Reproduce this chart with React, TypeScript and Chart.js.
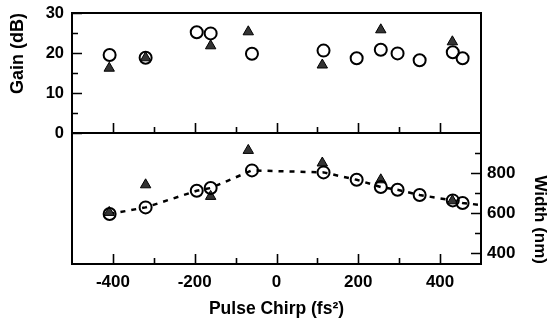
import React, { useEffect, useRef } from 'react';
import { Chart, registerables } from 'chart.js';

Chart.register(...registerables);

// ---- Data ----
const circleChirp = [-408, -320, -195, -161, -60, 115, 196, 255, 296, 350, 431, 455];
const circleGain = [19.5, 18.8, 25.2, 24.9, 19.8, 20.6, 18.7, 20.8, 19.9, 18.2, 20.2, 18.7];
const circleWidth = [595, 628, 711, 725, 813, 803, 766, 730, 716, 690, 663, 650];

const triChirp = [-409, -320, -161, -69, 112, 255, 430];
const triGain = [16.2, 18.8, 21.8, 25.3, 17.0, 25.8, 22.8];
const triWidth = [603, 741, 683, 913, 850, 766, 661];

// dashed guide line continues to the right edge
const fitEndChirp = [500];
const fitEndWidth = [640];

// ---- Tick labels ----
const chirpMajorTicks = [-400, -200, 0, 200, 400];
const chirpMinorTicks = [-300, -100, 100, 300];
const gainMajorTicks = [0, 10, 20, 30];
const gainMinorTicks = [5, 15, 25];
const widthMajorTicks = [400, 600, 800];
const widthMinorTicks = [500, 700, 900];

const FONT = "'Liberation Sans', Arial, Helvetica, sans-serif";
const INK = '#000';
const TRI_FILL = '#333';

function toPoints(xs: number[], ys: number[]) {
  return xs.map((x, i) => ({ x, y: ys[i] }));
}

function frameTicksPlugin(yEdge: 'left' | 'right', yMajor: number[], yMinor: number[]) {
  return {
    id: 'frameTicks',
    afterDraw(chart: any) {
      const { ctx, chartArea: a, scales } = chart;
      const xs = scales.x;
      const ys = scales.y;
      ctx.save();
      ctx.strokeStyle = INK;
      ctx.lineWidth = 2;
      ctx.strokeRect(a.left, a.top, a.right - a.left, a.bottom - a.top);
      ctx.lineWidth = 1.6;
      ctx.beginPath();
      const xTick = (vals: number[], len: number) => {
        vals.forEach((v) => {
          const px = Math.round(xs.getPixelForValue(v)) + 0.5;
          ctx.moveTo(px, a.bottom);
          ctx.lineTo(px, a.bottom - len);
        });
      };
      const yTick = (vals: number[], len: number) => {
        vals.forEach((v) => {
          const py = Math.round(ys.getPixelForValue(v)) + 0.5;
          if (yEdge === 'left') {
            ctx.moveTo(a.left, py);
            ctx.lineTo(a.left + len, py);
          } else {
            ctx.moveTo(a.right, py);
            ctx.lineTo(a.right - len, py);
          }
        });
      };
      xTick(chirpMajorTicks, 10);
      xTick(chirpMinorTicks, 6);
      yTick(yMajor, 10);
      yTick(yMinor, 6);
      ctx.stroke();
      ctx.restore();
    },
  };
}

const circleStyle = {
  pointStyle: 'circle',
  pointRadius: 6,
  borderColor: INK,
  borderWidth: 2,
  backgroundColor: 'rgba(0,0,0,0)',
};

const triStyle = {
  pointStyle: 'triangle',
  pointRadius: 6,
  borderColor: INK,
  borderWidth: 1,
  backgroundColor: TRI_FILL,
};

export default function App() {
  const topRef = useRef<HTMLCanvasElement>(null);
  const botRef = useRef<HTMLCanvasElement>(null);

  useEffect(() => {
    const top = new Chart(topRef.current as HTMLCanvasElement, {
      type: 'scatter',
      data: {
        datasets: [
          { label: 'Gain (circles)', data: toPoints(circleChirp, circleGain), ...circleStyle } as any,
          { label: 'Gain (triangles)', data: toPoints(triChirp, triGain), ...triStyle } as any,
        ],
      },
      options: {
        animation: false,
        responsive: false,
        events: [],
        layout: { padding: { left: 0, right: 69, top: 13, bottom: 17 } },
        plugins: { legend: { display: false }, tooltip: { enabled: false } },
        scales: {
          x: {
            type: 'linear',
            min: -500,
            max: 500,
            ticks: { display: false },
            grid: { display: false, drawTicks: false },
            border: { display: false },
            afterFit: (s: any) => { s.height = 0; },
          },
          y: {
            type: 'linear',
            position: 'left',
            min: 0,
            max: 30,
            afterBuildTicks: (s: any) => { s.ticks = gainMajorTicks.map((v) => ({ value: v })); },
            ticks: { color: INK, padding: 8, font: { family: FONT, size: 16.5, weight: 'bold' } },
            grid: { display: false, drawTicks: false },
            border: { display: false },
            title: {
              display: true,
              text: 'Gain (dB)',
              color: INK,
              align: 'end',
              padding: { top: 7, bottom: 0 },
              font: { family: FONT, size: 18, weight: 'bold' },
            },
            afterFit: (s: any) => { s.width = 72; s.paddingTop = 0; s.paddingBottom = 0; },
          },
        },
      } as any,
      plugins: [frameTicksPlugin('left', gainMajorTicks, gainMinorTicks)],
    });

    const bottom = new Chart(botRef.current as HTMLCanvasElement, {
      type: 'scatter',
      data: {
        datasets: [
          { label: 'Width (circles)', data: toPoints(circleChirp, circleWidth), ...circleStyle } as any,
          { label: 'Width (triangles)', data: toPoints(triChirp, triWidth), ...triStyle } as any,
          {
            label: 'Width trend',
            data: toPoints(circleChirp.concat(fitEndChirp), circleWidth.concat(fitEndWidth)),
            showLine: true,
            borderColor: INK,
            borderWidth: 2.5,
            borderDash: [5, 6],
            pointRadius: 0,
            fill: false,
          } as any,
        ],
      },
      options: {
        animation: false,
        responsive: false,
        events: [],
        layout: { padding: { left: 72, right: 0, top: 13, bottom: 0 } },
        plugins: { legend: { display: false }, tooltip: { enabled: false } },
        scales: {
          x: {
            type: 'linear',
            position: 'bottom',
            min: -500,
            max: 500,
            afterBuildTicks: (s: any) => { s.ticks = chirpMajorTicks.map((v) => ({ value: v })); },
            ticks: { color: INK, padding: 8, maxRotation: 0, autoSkip: false, font: { family: FONT, size: 17, weight: 'bold' } },
            grid: { display: false, drawTicks: false },
            border: { display: false },
            title: {
              display: true,
              text: 'Pulse Chirp (fs\u00B2)',
              color: INK,
              padding: { top: 0, bottom: 4 },
              font: { family: FONT, size: 17.5, weight: 'bold' },
            },
            afterFit: (s: any) => { s.height = 60; },
          },
          y: {
            type: 'linear',
            position: 'right',
            min: 345,
            max: 1000,
            afterBuildTicks: (s: any) => { s.ticks = widthMajorTicks.map((v) => ({ value: v })); },
            ticks: { color: INK, padding: 6, font: { family: FONT, size: 17, weight: 'bold' } },
            grid: { display: false, drawTicks: false },
            border: { display: false },
            title: {
              display: true,
              text: 'Width (nm)',
              color: INK,
              align: 'start',
              padding: { top: 0, bottom: 0 },
              font: { family: FONT, size: 17, weight: 'bold' },
            },
            afterFit: (s: any) => { s.width = 69; s.paddingTop = 0; s.paddingBottom = 0; },
          },
        },
      } as any,
      plugins: [frameTicksPlugin('right', widthMajorTicks, widthMinorTicks)],
    });

    return () => {
      top.destroy();
      bottom.destroy();
    };
  }, []);

  return (
    <div style={{ position: 'absolute', left: 0, top: 0, width: 550, height: 324, background: '#fff', overflow: 'hidden' }}>
      <canvas ref={topRef} width={550} height={150} style={{ position: 'absolute', left: 0, top: 0 }} />
      <canvas ref={botRef} width={550} height={204} style={{ position: 'absolute', left: 0, top: 120 }} />
    </div>
  );
}
